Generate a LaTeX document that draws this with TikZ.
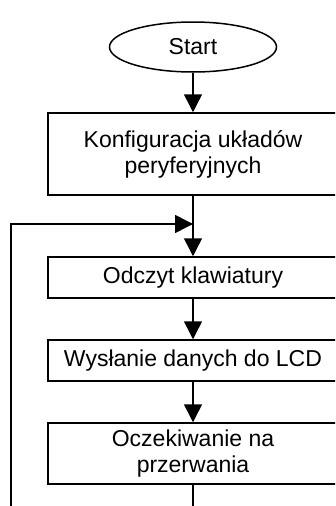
\documentclass[tikz,border=0pt]{standalone}
\usepackage{fontspec}
\setmainfont{Liberation Sans}
\usetikzlibrary{shapes.geometric,arrows.meta}

\tikzset{
  block/.style={draw, line width=1.5pt, minimum width=290pt, inner sep=0pt, align=center},
  term/.style={draw, ellipse, line width=1.5pt, minimum width=167pt, minimum height=50pt, inner sep=0pt},
  arr/.style={line width=1.5pt, -{Triangle[length=18pt,width=18pt]}}
}

\begin{document}
\begin{tikzpicture}[x=1pt, y=-1pt, font=\fontsize{23}{26}\selectfont]
    \clip (0,0) rectangle (335,506);
    % start and the blocks of the main loop
    \node[term] (start) at (193,47) {Start};
    \node[block, minimum height=82pt] (konf) at (193,154) {Konfiguracja układów\\peryferyjnych};
    \node[block, minimum height=41pt] (klaw) at (193,277.5) {Odczyt klawiatury};
    \node[block, minimum height=41pt] (lcd) at (193,360.5) {Wysłanie danych do LCD};
    \node[block, minimum height=61pt] (irq) at (193,453.5) {Oczekiwanie na\\przerwania};
    \coordinate (merge) at (193,224);
    \coordinate (down) at (193,506);
    \coordinate (back) at (11,506);
    % arrows between the steps
    \draw[arr] (start) -- (konf);
    \draw[arr] (konf) -- (klaw);
    \draw[arr] (klaw) -- (lcd);
    \draw[arr] (lcd) -- (irq);
    % return to the top of the loop
    \draw[line width=1.5pt] (irq) -- (down);
    \draw[arr] (back) |- (merge);
\end{tikzpicture}
\end{document}
